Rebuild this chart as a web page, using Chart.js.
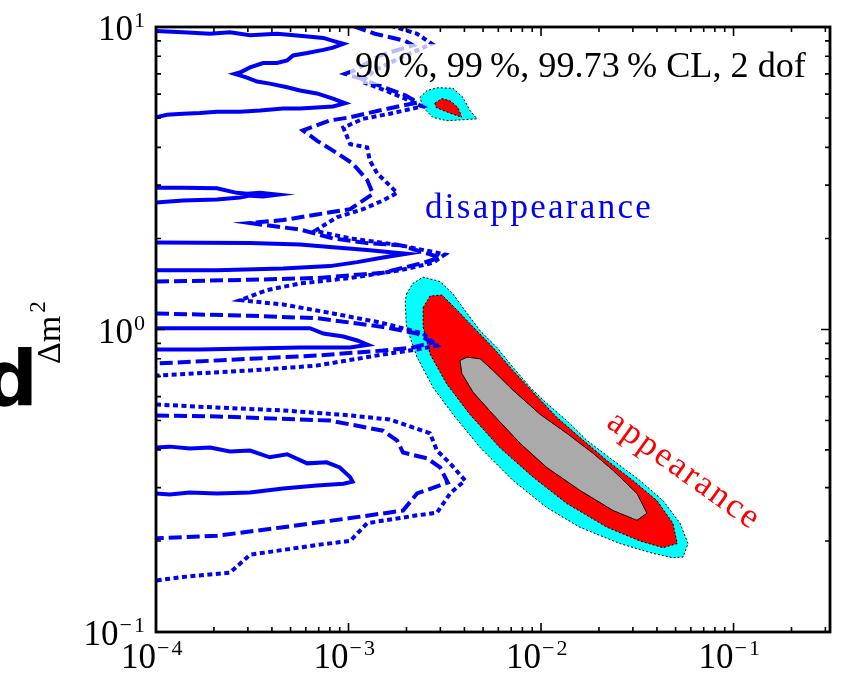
<!DOCTYPE html>
<html>
<head>
<meta charset="utf-8">
<script src="https://cdn.jsdelivr.net/npm/chart.js@4.4.1/dist/chart.umd.min.js"></script>
<style>
  html, body { margin: 0; padding: 0; background: #fff; }
</style>
</head>
<body>
<canvas id="plot" width="846" height="676"></canvas>
<script>
// ── Axis ranges and tick decades ─────────────────────────────────────────────
const X_MIN = 1e-4, X_MAX = 0.317;
const Y_MIN = 0.1,  Y_MAX = 10;
const xDecades = [-4, -3, -2, -1];
const yDecades = [-1, 0, 1];

// ── Disappearance contours [sin^2 2θ, Δm^2] (90% solid) ──────────────────────
const disSolid1 = [[1e-4,9.7],[1.38e-4,9.6],[1.91e-4,9.5],[2.42e-4,9.6],[3.08e-4,9.4],[4.25e-4,9.5],[5.4e-4,9.37],[7.4e-4,9.2],[8.3e-4,9.0],[9.4e-4,8.8],[8.3e-4,8.55],[7.4e-4,8.4],[6.1e-4,8.2],[5.15e-4,8.05],[4.8e-4,7.75],[4.25e-4,7.6],[3.6e-4,7.6],[3.08e-4,7.35],[2.73e-4,7.07],[2.57e-4,7.0],[2.97e-4,6.8],[3.35e-4,6.6],[3.9e-4,6.5],[4.8e-4,6.32],[5.6e-4,6.17],[6.85e-4,6.03],[8.3e-4,5.8],[9.6e-4,5.6],[8.3e-4,5.46],[6.85e-4,5.42],[5.6e-4,5.38],[4.57e-4,5.38],[3.47e-4,5.3],[2.73e-4,5.25],[2.07e-4,5.25],[1.69e-4,5.2],[1.38e-4,5.17],[1.14e-4,5.13],[1e-4,5.03]];
const disSolid2 = [[1e-4,2.94],[1.38e-4,2.94],[2.07e-4,2.93],[2.63e-4,2.83],[2.97e-4,2.81],[3.47e-4,2.83],[4.3e-4,2.79],[3.6e-4,2.75],[3.08e-4,2.77],[2.73e-4,2.73],[2.07e-4,2.69],[1.38e-4,2.67],[1e-4,2.63]];
const disSolid3 = [[1e-4,1.94],[3.08e-4,1.93],[5.6e-4,1.91],[8.3e-4,1.87],[1.25e-3,1.83],[2.0e-3,1.78],[1.51e-3,1.73],[1.11e-3,1.67],[8.0e-4,1.62],[4.57e-4,1.59],[2.07e-4,1.57],[1e-4,1.57]];
const disSolid4 = [[1e-4,1.01],[2.07e-4,1.01],[4.57e-4,1.01],[6.3e-4,1.01],[7.4e-4,0.97],[9.4e-4,0.948],[1.11e-3,0.92],[1.26e-3,0.89],[1.02e-3,0.872],[5.6e-4,0.872],[3.08e-4,0.865],[1.69e-4,0.859],[1e-4,0.859]];
const disSolid5 = [[1e-4,0.407],[1.18e-4,0.41],[1.5e-4,0.404],[1.91e-4,0.407],[2.42e-4,0.395],[3.08e-4,0.398],[3.9e-4,0.378],[4.8e-4,0.387],[6.1e-4,0.361],[7.7e-4,0.364],[9.0e-4,0.35],[1.02e-3,0.325],[1.05e-3,0.314],[9.4e-4,0.309],[6.85e-4,0.305],[4.57e-4,0.298],[3.08e-4,0.289],[2.07e-4,0.287],[1.5e-4,0.289],[1.18e-4,0.285],[1e-4,0.287]];

// 99% (dashed)
const disDash1 = [[1e-4,1.44],[3.08e-4,1.46],[6.85e-4,1.48],[1.51e-3,1.54],[2.44e-3,1.66],[2.99e-3,1.73],[1.85e-3,1.9],[1.25e-3,1.93],[8.3e-4,2.0],[5.6e-4,2.14],[3.77e-4,2.21],[3.08e-4,2.25],[4.57e-4,2.3],[6.85e-4,2.4],[1.02e-3,2.5],[1.34e-3,2.81],[1.25e-3,3.12],[1.05e-3,3.54],[8.7e-4,3.83],[6.85e-4,4.21],[5.8e-4,4.55],[8.0e-4,4.91],[1.02e-3,5.03],[1.51e-3,5.33],[2.29e-3,5.63],[1.97e-3,5.95],[1.55e-3,6.3],[1.15e-3,6.76],[9.6e-4,7.0],[1.08e-3,7.2],[1.46e-3,8.05],[2.16e-3,8.7],[1.97e-3,9.0],[1.37e-3,9.5],[9.6e-4,10.3]];
const disDash2 = [[1e-4,1.13],[3.08e-4,1.11],[6.85e-4,1.09],[1.51e-3,1.02],[2.27e-3,0.97],[2.71e-3,0.905],[2.16e-3,0.872],[1.51e-3,0.852],[6.85e-4,0.82],[3.08e-4,0.8],[1e-4,0.772]];
const disDash3 = [[1e-4,0.52],[2.07e-4,0.516],[8.0e-4,0.5],[1.51e-3,0.463],[1.79e-3,0.429],[1.92e-3,0.392],[2.56e-3,0.375],[2.99e-3,0.35],[3.28e-3,0.312],[2.27e-3,0.287],[1.92e-3,0.252],[1.02e-3,0.238],[4.57e-4,0.222],[2.07e-4,0.208],[1e-4,0.204]];

// 99.73% (dotted)
const disDot1 = [[1.5e-3,10.3],[2.27e-3,9.5],[2.71e-3,8.8],[1.97e-3,8.05],[1.37e-3,7.2],[1.17e-3,6.6],[1.55e-3,6.17],[2.09e-3,5.7],[2.41e-3,5.46],[1.64e-3,5.17],[1.19e-3,4.97],[9.4e-4,4.65],[1.02e-3,4.1],[1.25e-3,4.0],[1.29e-3,3.62],[1.41e-3,3.28],[1.79e-3,2.83],[1.51e-3,2.67],[1.19e-3,2.5],[8.7e-4,2.35],[6.7e-4,2.12],[1.02e-3,2.0],[1.85e-3,1.9],[3.17e-3,1.77],[2.74e-3,1.66],[1.85e-3,1.57],[1.02e-3,1.48],[5.6e-4,1.42],[3.77e-4,1.35],[2.73e-4,1.25],[4.57e-4,1.21],[8.3e-4,1.13],[1.51e-3,1.05],[2.44e-3,0.97],[2.88e-3,0.885],[2.27e-3,0.859],[1.51e-3,0.827],[6.85e-4,0.76],[3.08e-4,0.732],[1e-4,0.704]];
const disDot2 = [[1e-4,0.565],[2.07e-4,0.552],[4.57e-4,0.54],[1.02e-3,0.52],[1.64e-3,0.504],[2.65e-3,0.454],[2.88e-3,0.398],[3.37e-3,0.361],[4.03e-3,0.317],[3.37e-3,0.287],[2.88e-3,0.248],[2.27e-3,0.243],[1.25e-3,0.229],[1.02e-3,0.2],[6.85e-4,0.194],[3.08e-4,0.18],[2.42e-4,0.157],[1.38e-4,0.152],[1e-4,0.148]];

// ── Appearance regions (filled) ──────────────────────────────────────────────
const appCyan = [[2.0e-3,1.31],[2.16e-3,1.42],[2.44e-3,1.49],[2.99e-3,1.44],[3.49e-3,1.31],[4.13e-3,1.13],[4.83e-3,0.99],[5.9e-3,0.872],[7.15e-3,0.75],[8.8e-3,0.643],[1.07e-2,0.57],[1.36e-2,0.5],[1.73e-2,0.43],[2.37e-2,0.369],[3.26e-2,0.317],[4.3e-2,0.272],[5.27e-2,0.229],[5.8e-2,0.196],[5.47e-2,0.177],[4.84e-2,0.176],[3.81e-2,0.182],[2.57e-2,0.196],[1.59e-2,0.222],[1.07e-2,0.258],[7.15e-3,0.317],[4.83e-3,0.407],[3.49e-3,0.524],[2.75e-3,0.643],[2.27e-3,0.81],[2.0e-3,1.02],[1.97e-3,1.23]];
const appRed = [[2.44e-3,1.18],[2.65e-3,1.29],[3.06e-3,1.3],[3.66e-3,1.16],[4.44e-3,1.02],[5.63e-3,0.872],[7.15e-3,0.732],[9.1e-3,0.62],[1.21e-2,0.512],[1.59e-2,0.44],[2.2e-2,0.369],[3.0e-2,0.317],[4.0e-2,0.272],[4.84e-2,0.229],[5.1e-2,0.196],[4.3e-2,0.19],[3.26e-2,0.2],[2.2e-2,0.222],[1.36e-2,0.266],[9.1e-3,0.325],[6.1e-3,0.407],[4.27e-3,0.524],[3.24e-3,0.66],[2.65e-3,0.83],[2.44e-3,1.02]];
const appGray = [[3.79e-3,0.79],[4.13e-3,0.81],[4.83e-3,0.8],[5.63e-3,0.732],[7.15e-3,0.63],[9.9e-3,0.524],[1.36e-2,0.454],[1.86e-2,0.39],[2.37e-2,0.342],[3.15e-2,0.287],[3.55e-2,0.247],[3.15e-2,0.234],[2.37e-2,0.252],[1.59e-2,0.294],[1.07e-2,0.35],[7.8e-3,0.42],[5.63e-3,0.524],[4.44e-3,0.62],[3.88e-3,0.715]];
const isleCyan = [[2.35e-3,5.85],[2.56e-3,6.17],[2.92e-3,6.3],[3.49e-3,6.27],[3.93e-3,5.85],[4.27e-3,5.3],[4.65e-3,4.97],[3.79e-3,4.93],[3.24e-3,4.9],[2.74e-3,5.03],[2.44e-3,5.42]];
const isleRed = [[2.81e-3,5.6],[3.06e-3,5.8],[3.37e-3,5.7],[3.7e-3,5.42],[3.88e-3,5.03],[3.57e-3,5.12],[3.1e-3,5.3],[2.85e-3,5.42]];

// ── Texts ────────────────────────────────────────────────────────────────────
const TITLE   = '90\u2009%, 99\u2009%, 99.73\u2009% CL, 2 dof';
const DIS_TXT = 'disappearance';
const APP_TXT = 'appearance';

const BLUE  = '#0000f5';
const SERIF = "'Liberation Serif', 'Times New Roman', serif";

const pts    = arr => arr.map(([x, y]) => ({ x, y }));
const closed = arr => pts(arr.concat([arr[0]]));

function contour(arr, dash) {
  return { data: pts(arr), showLine: true, fill: false, borderColor: BLUE, borderWidth: 4,
           borderDash: dash, borderCapStyle: 'butt', borderJoinStyle: 'miter', pointRadius: 0, order: 0 };
}
function region(arr, color, edgeDash, order) {
  return { data: closed(arr), showLine: true, fill: 'shape', backgroundColor: color,
           borderColor: '#000', borderWidth: 1, borderDash: edgeDash, pointRadius: 0, order };
}

// ── Frame, ticks, labels ─────────────────────────────────────────────────────
// "10" ends at the anchor x, the exponent follows it
function drawPow(ctx, exp, x, base) {
  ctx.textAlign = 'left';
  ctx.textBaseline = 'alphabetic';
  ctx.font = `35px ${SERIF}`;
  const w1 = ctx.measureText('10').width;
  ctx.fillText('10', x - w1, base);
  ctx.font = `22px ${SERIF}`;
  let ex = x + 1;
  if (exp < 0) {
    ctx.fillText('\u2212', ex, base - 13);
    ex += ctx.measureText('\u2212').width + 2;
  }
  ctx.fillText(String(Math.abs(exp)), ex, base - 13);
  return ex + ctx.measureText(String(Math.abs(exp))).width - x;
}

const decor = {
  id: 'decor',
  afterDatasetsDraw(chart) {
    const { ctx, chartArea: a, scales: { x, y } } = chart;
    ctx.save();

    // veil behind the CL caption, caption fitted to the 355..806 span
    ctx.font = `34px ${SERIF}`;
    const size = 34 * 451 / ctx.measureText(TITLE).width;
    ctx.font = `${size}px ${SERIF}`;
    ctx.fillStyle = 'rgba(255,255,255,0.72)';
    ctx.fillRect(350, 44, 462, 40);
    ctx.fillStyle = '#000';
    ctx.textAlign = 'left';
    ctx.textBaseline = 'alphabetic';
    ctx.fillText(TITLE, 355, 77);

    ctx.fillStyle = BLUE;
    ctx.font = `35px ${SERIF}`;
    ctx.letterSpacing = '2.3px';
    ctx.fillText(DIS_TXT, 425, 218);

    ctx.save();
    ctx.translate(684, 471);
    ctx.rotate(0.62);
    ctx.fillStyle = '#ff0000';
    ctx.font = `35px ${SERIF}`;
    ctx.textAlign = 'center';
    ctx.textBaseline = 'middle';
    ctx.fillText(APP_TXT, 0, 0);
    ctx.restore();
    ctx.letterSpacing = '0px';

    // ticks (inward, all four sides)
    ctx.strokeStyle = '#000';
    ctx.lineWidth = 1.6;
    ctx.beginPath();
    xDecades.forEach(e => {
      for (let m = 1; m <= 9; m++) {
        const v = m * Math.pow(10, e);
        if (v < X_MIN || v > X_MAX) continue;
        const px = x.getPixelForValue(v), len = m === 1 ? 9 : 5;
        ctx.moveTo(px, a.bottom); ctx.lineTo(px, a.bottom - len);
        ctx.moveTo(px, a.top);    ctx.lineTo(px, a.top + len);
      }
    });
    yDecades.forEach(e => {
      for (let m = 1; m <= 9; m++) {
        const v = m * Math.pow(10, e);
        if (v < Y_MIN || v > Y_MAX * 1.0001) continue;
        const py = y.getPixelForValue(v), len = m === 1 ? 9 : 5;
        ctx.moveTo(a.left, py);  ctx.lineTo(a.left + len, py);
        ctx.moveTo(a.right, py); ctx.lineTo(a.right - len, py);
      }
    });
    ctx.stroke();

    ctx.lineWidth = 2.8;
    ctx.strokeRect(a.left, a.top, a.right - a.left, a.bottom - a.top);

    // tick labels
    ctx.fillStyle = '#000';
    xDecades.forEach(e => drawPow(ctx, e, x.getPixelForValue(Math.pow(10, e)), 668));
    yDecades.forEach(e => {
      const py = y.getPixelForValue(Math.pow(10, e)) + 13;
      // measure first, then right-align the whole label at x = 145
      ctx.save(); ctx.globalAlpha = 0;
      const tail = drawPow(ctx, e, 0, py);
      ctx.restore();
      drawPow(ctx, e, 145 - tail, py);
    });

    // y-axis title
    ctx.font = "bold 76px 'DejaVu Sans', sans-serif";
    ctx.textAlign = 'right';
    ctx.textBaseline = 'alphabetic';
    ctx.fillText('d', 38, 405);
    ctx.save();
    ctx.translate(60, 364);
    ctx.rotate(-Math.PI / 2);
    ctx.textAlign = 'left';
    ctx.font = `34px ${SERIF}`;
    ctx.fillText('\u0394m', 0, 0);
    const mw = ctx.measureText('\u0394m').width;
    ctx.font = `23px ${SERIF}`;
    ctx.fillText('2', mw + 3, -15);
    ctx.restore();

    ctx.restore();
  }
};

new Chart(document.getElementById('plot'), {
  type: 'scatter',
  data: {
    datasets: [
      contour(disSolid1, []), contour(disSolid2, []), contour(disSolid3, []),
      contour(disSolid4, []), contour(disSolid5, []),
      contour(disDash1, [13, 5]), contour(disDash2, [13, 5]), contour(disDash3, [13, 5]),
      contour(disDot1, [5, 3.5]), contour(disDot2, [5, 3.5]),
      region(appGray,  '#aaaaaa', [],     1),
      region(appRed,   '#ff0000', [2, 2], 2),
      region(isleRed,  '#ff0000', [2, 2], 2),
      region(appCyan,  '#00ffff', [2, 2], 3),
      region(isleCyan, '#00ffff', [2, 2], 3)
    ]
  },
  options: {
    responsive: false,
    animation: false,
    layout: { padding: { left: 156, top: 27, right: 16, bottom: 44 } },
    plugins: { legend: { display: false }, tooltip: { enabled: false } },
    elements: { line: { tension: 0 } },
    scales: {
      x: {
        type: 'logarithmic', min: X_MIN, max: X_MAX,
        grid: { display: false }, border: { display: false }, ticks: { display: false },
        afterFit: s => { s.height = 0; }
      },
      y: {
        type: 'logarithmic', min: Y_MIN, max: Y_MAX,
        grid: { display: false }, border: { display: false }, ticks: { display: false },
        afterFit: s => { s.width = 0; }
      }
    }
  },
  plugins: [decor]
});
</script>
</body>
</html>
